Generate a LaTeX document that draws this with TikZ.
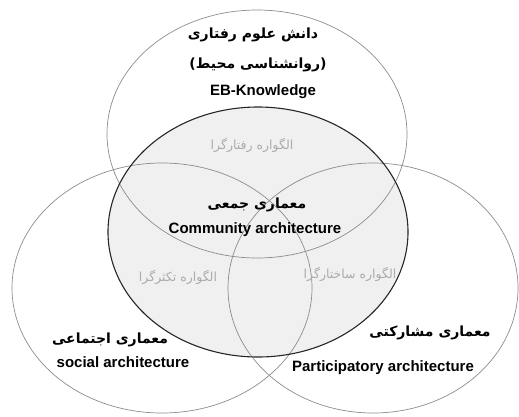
\documentclass[tikz,border=0pt]{standalone}
\usepackage{fontspec}
\setmainfont{Liberation Sans}
\newfontfamily\arabicfont[Script=Arabic]{DejaVu Sans}
\TeXXeTstate=1
\usepackage{tikz}

\begin{document}
\begin{tikzpicture}[x=1pt,y=-1pt,
		ring/.style={draw=black!45, line width=0.7pt},
		core/.style={draw=black!85, line width=1.1pt},
		fa/.style={font=\arabicfont\bfseries\fontsize{14}{16}\selectfont},
		en/.style={font=\bfseries\fontsize{15}{17}\selectfont},
		para/.style={font=\arabicfont\fontsize{12.5}{14}\selectfont, text=black!33}]
		% Frame and circles
		\useasboundingbox (0,0) rectangle (519,416);
		\fill[black!6] (258,232) ellipse (150pt and 125pt);
		\draw[ring] (257,134) ellipse (150pt and 124pt);
		\draw[ring] (162,288) ellipse (150pt and 125pt);
		\draw[ring] (373,288) ellipse (145pt and 125pt);
		\draw[core] (258,232) ellipse (150pt and 125pt);
		% Top circle
		\node[fa] (know) at (253,35) {\beginR دانش علوم رفتاری\endR};
		\node[fa] (psych) at (258,65) {\beginR (روانشناسی محیط)\endR};
		\node[en] (eb) at (263,92) {EB-Knowledge};
		% Middle
		\node[para] (behav) at (252,145) {\beginR الگواره رفتارگرا\endR};
		\node[fa] (comm) at (257,205) {\beginR معماری جمعی\endR};
		\node[en] (commen) at (255,230) {Community architecture};
		\node[para] (plural) at (178,277) {\beginR الگواره تکثرگرا\endR};
		\node[para] (struct) at (350,274) {\beginR الگواره ساختارگرا\endR};
		% Bottom circles
		\node[fa] (social) at (110,340) {\beginR معماری اجتماعی\endR};
		\node[en] (socialen) at (123,362) {social architecture};
		\node[fa] (partic) at (430,333) {\beginR معماری مشارکتی\endR};
		\node[en] (particen) at (383,368) {Participatory architecture};
	\end{tikzpicture}
\end{document}
